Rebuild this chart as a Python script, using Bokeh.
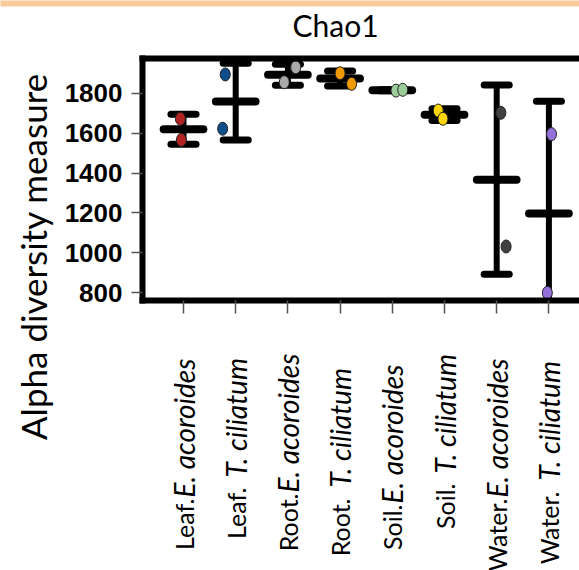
import numpy as np
from math import pi
from bokeh.plotting import figure
from bokeh.models import (Range1d, FixedTicker, LinearAxis, Label, BoxAnnotation,
                          ColumnDataSource)
from bokeh.embed import file_html
from bokeh.resources import INLINE

# ---------------- data ----------------
site_parts = ["Leaf.", "Leaf.", "Root.", "Root.", "Soil.", "Soil.", "Water.", "Water."]
species_parts = ["E. acoroides", "T. ciliatum", "E. acoroides", "T. ciliatum",
                 "E. acoroides", "T. ciliatum", "E. acoroides", "T. ciliatum"]
colors = ["#B22222", "#104E8B", "#A9A9A9", "#EE9A00",
          "#9BCD9B", "#FFD700", "#404040", "#9370DB"]
chao1_rep1 = [1672, 1894, 1930, 1900, 1813, 1713, 1702, 1595]
chao1_rep2 = [1566, 1622, 1855, 1847, 1817, 1672, 1032, 800]
jitter_rep1 = [-0.06, -0.20, 0.15, 0.00, 0.07, -0.12, 0.08, 0.05]
jitter_rep2 = [-0.04, -0.25, -0.07, 0.22, 0.20, -0.03, 0.18, -0.03]
y_ticks = [800, 1000, 1200, 1400, 1600, 1800]

# ---------------- layout (pixels of the 579x570 canvas) ----------------
W, H = 579, 570
PX_PER_X = 52.2             # pixels per category step
X_AT_PX0 = 1 - 183 / PX_PER_X
PX_PER_Y = 0.1996           # pixels per Chao1 unit
Y_AT_PX0 = 1800 + 92.7 / PX_PER_Y


def xd(px):
    return X_AT_PX0 + px / PX_PER_X


def yd(py):
    return Y_AT_PX0 - py / PX_PER_Y


BOX_LEFT, BOX_TOP, BOX_BOTTOM = 142, 57.5, 300
# canvas y (px) where the plain part of each x label ends and the italic part begins
label_plain_end = [498, 487, 493, 498, 504, 483, 498, 491]
label_ital_start = [497, 477, 492, 487, 503, 473, 497, 480]

n = len(site_parts)
xs = np.arange(1, n + 1, dtype=float)
r1 = np.array(chao1_rep1, dtype=float)
r2 = np.array(chao1_rep2, dtype=float)
means = (r1 + r2) / 2.0
sds = np.std(np.vstack([r1, r2]), axis=0, ddof=1)
upper = means + sds
lower = means - sds

y_lo, y_hi = yd(BOX_BOTTOM), yd(BOX_TOP)

p = figure(width=W, height=H, output_backend="svg", toolbar_location=None,
           title_location=None,
           x_range=Range1d(xd(0), xd(W)), y_range=Range1d(yd(H), yd(0)),
           min_border=0)
p.outline_line_color = None
p.grid.visible = False
p.background_fill_color = "white"
p.border_fill_color = "white"

# peach band at the very top
p.add_layout(BoxAnnotation(left=xd(-10), right=xd(W + 10), top=yd(-10), bottom=yd(6),
                           fill_color="#FCCB9B", fill_alpha=1.0, line_color=None))

# y axis
ya = p.yaxis[0]
ya.fixed_location = xd(BOX_LEFT)
ya.bounds = (y_lo, y_hi)
ya.ticker = FixedTicker(ticks=y_ticks)
ya.axis_line_width = 6
ya.axis_line_cap = "square"
ya.major_tick_out = 11
ya.major_tick_in = 0
ya.minor_tick_out = 0
ya.minor_tick_in = 0
ya.major_tick_line_color = "#555555"
ya.major_tick_line_width = 1.5
ya.major_label_text_font = "Liberation Sans"
ya.major_label_text_font_style = "bold"
ya.major_label_text_font_size = "26px"
ya.major_label_text_color = "black"
ya.major_label_standoff = 9

# x axis
xa = p.xaxis[0]
xa.fixed_location = y_lo
xa.bounds = (xd(BOX_LEFT), xd(W + 10))
xa.ticker = FixedTicker(ticks=list(xs))
xa.major_label_overrides = {float(x): "" for x in xs}
xa.axis_line_width = 6
xa.axis_line_cap = "square"
xa.major_tick_out = 13
xa.major_tick_in = 0
xa.minor_tick_out = 0
xa.minor_tick_in = 0
xa.major_tick_line_color = "#555555"
xa.major_tick_line_width = 1.5

# top border
ta = LinearAxis(ticker=FixedTicker(ticks=[]), fixed_location=y_hi,
                bounds=(xd(BOX_LEFT), xd(W + 10)),
                axis_line_width=6, axis_line_cap="square",
                major_tick_out=0, major_tick_in=0, minor_tick_out=0, minor_tick_in=0)
p.add_layout(ta, "above")

# error bars (mean +/- sd), kept inside the plotting box
CAP = 0.24
MEANW = 0.38
seg_lo = np.maximum(lower, y_lo)
seg_hi = np.minimum(upper, y_hi)
p.segment(x0=xs, y0=seg_lo, x1=xs, y1=seg_hi, line_color="black", line_width=6)
up_in = upper <= y_hi
lo_in = lower >= y_lo
p.segment(x0=(xs - CAP)[up_in], y0=upper[up_in], x1=(xs + CAP)[up_in], y1=upper[up_in],
          line_color="black", line_width=7, line_cap="round")
p.segment(x0=(xs - CAP)[lo_in], y0=lower[lo_in], x1=(xs + CAP)[lo_in], y1=lower[lo_in],
          line_color="black", line_width=7, line_cap="round")
p.segment(x0=xs - MEANW, y0=means, x1=xs + MEANW, y1=means, line_color="black",
          line_width=8, line_cap="round")

# points
src = ColumnDataSource(dict(
    x=list(xs + np.array(jitter_rep1)) + list(xs + np.array(jitter_rep2)),
    y=list(r1) + list(r2),
    c=colors + colors,
))
p.ellipse(x="x", y="y", width=10, height=13, width_units="screen", height_units="screen",
          fill_color="c", line_color="#222222", line_width=1, source=src)

# title
p.add_layout(Label(x=335, y=H - 24, x_units="screen", y_units="screen", text="Chao1",
                   text_align="center", text_baseline="alphabetic",
                   text_font="Lato", text_font_size="30px", text_color="black"))

# x labels (plain + italic parts)
for i in range(n):
    p.add_layout(Label(x=xs[i], y=H - label_plain_end[i], x_units="data",
                       y_units="screen", text=site_parts[i], angle=pi / 2,
                       text_align="right", text_baseline="middle",
                       text_font="Lato", text_font_size="25px", text_color="black"))
    p.add_layout(Label(x=xs[i], y=H - label_ital_start[i], x_units="data",
                       y_units="screen", text=species_parts[i], angle=pi / 2,
                       text_align="left", text_baseline="middle",
                       text_font="Lato", text_font_style="italic",
                       text_font_size="28px", text_color="black"))

# y axis title
p.add_layout(Label(x=32, y=H - 256, x_units="screen", y_units="screen",
                   text="Alpha diversity measure", angle=pi / 2, text_align="center",
                   text_baseline="middle", text_font="Lato", text_font_size="35px",
                   text_color="black"))

open("out.html", "w").write(file_html(p, INLINE))
